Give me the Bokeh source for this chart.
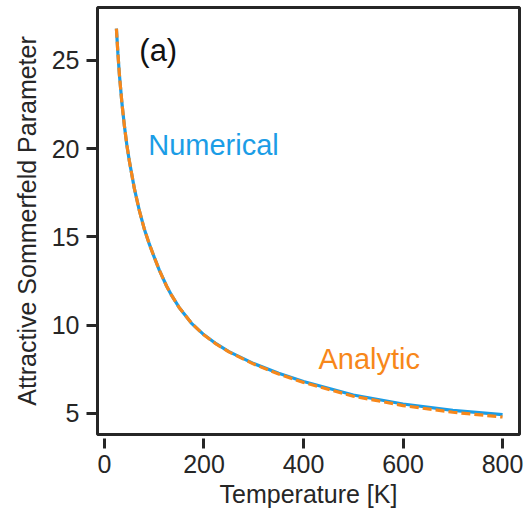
from bokeh.plotting import figure
from bokeh.models import Range1d, FixedTicker
from bokeh.core.properties import value
from bokeh.embed import file_html
from bokeh.resources import INLINE

temperature = [24, 27, 30, 35, 40, 45, 50, 60, 70, 80, 90, 100, 110, 125, 135, 150,
               175, 200, 225, 250, 300, 350, 400, 500, 600, 700, 800]
numerical = [26.8, 25.4, 24.2, 22.6, 21.3, 20.2, 19.3, 17.75, 16.5, 15.45, 14.6,
             13.85, 13.13, 12.2, 11.68, 11.0, 10.1, 9.45, 8.93, 8.5, 7.82, 7.27,
             6.8, 6.04, 5.53, 5.17, 4.93]
analytic = [26.8, 25.4, 24.2, 22.6, 21.3, 20.2, 19.3, 17.75, 16.5, 15.45, 14.6,
            13.85, 13.13, 12.2, 11.68, 11.0, 10.1, 9.44, 8.915, 8.48, 7.79, 7.23,
            6.75, 5.97, 5.44, 5.06, 4.79]
x_ticks = [0, 200, 400, 600, 800]
y_ticks = [5, 10, 15, 20, 25]

FONT = "Liberation Sans"
BLUE = "#1b9de6"
ORANGE = "#f7871a"
DARK = "#262626"

p = figure(width=524, height=513, output_backend="svg", toolbar_location=None,
           x_range=Range1d(-14, 834), y_range=Range1d(3.8, 28.0),
           min_border_left=97, min_border_right=5, min_border_top=7,
           min_border_bottom=79)
p.grid.visible = False
p.background_fill_color = "white"
p.outline_line_color = DARK
p.outline_line_width = 3

p.xaxis.ticker = FixedTicker(ticks=x_ticks)
p.yaxis.ticker = FixedTicker(ticks=y_ticks)
for ax in (p.xaxis, p.yaxis):
    ax.axis_line_color = None
    ax.major_tick_line_color = DARK
    ax.major_tick_line_width = 3
    ax.minor_tick_line_color = None
    ax.major_label_text_font = FONT
    ax.major_label_text_font_size = "25px"
    ax.major_label_text_color = DARK
    ax.axis_label_text_font = FONT
    ax.axis_label_text_font_size = "25px"
    ax.axis_label_text_font_style = "normal"
    ax.axis_label_text_color = DARK
p.xaxis.major_tick_in = -4
p.xaxis.major_tick_out = 14
p.yaxis.major_tick_in = 0
p.yaxis.major_tick_out = 11
p.xaxis.major_label_standoff = 6
p.yaxis.major_label_standoff = 7
p.xaxis.axis_label = "Temperature [K]"
p.yaxis.axis_label = "Attractive Sommerfeld Parameter"
p.xaxis.axis_label_standoff = 4
p.yaxis.axis_label_standoff = 8

p.line(temperature, numerical, line_color=BLUE, line_width=3.2)
p.line(temperature, analytic, line_color=ORANGE, line_width=3.2, line_dash="9 4")

p.text(x=[88], y=[20.2], text=["Numerical"], text_color=BLUE,
       text_font=value(FONT), text_font_size="29px", text_baseline="alphabetic")
p.text(x=[430], y=[8.08], text=["Analytic"], text_color=ORANGE,
       text_font=value(FONT), text_font_size="29px", text_baseline="alphabetic")
p.text(x=[70], y=[25.55], text=["(a)"], text_color="#111111",
       text_font=value(FONT), text_font_size="31px", text_baseline="alphabetic")

open("out.html", "w").write(file_html(p, INLINE))
